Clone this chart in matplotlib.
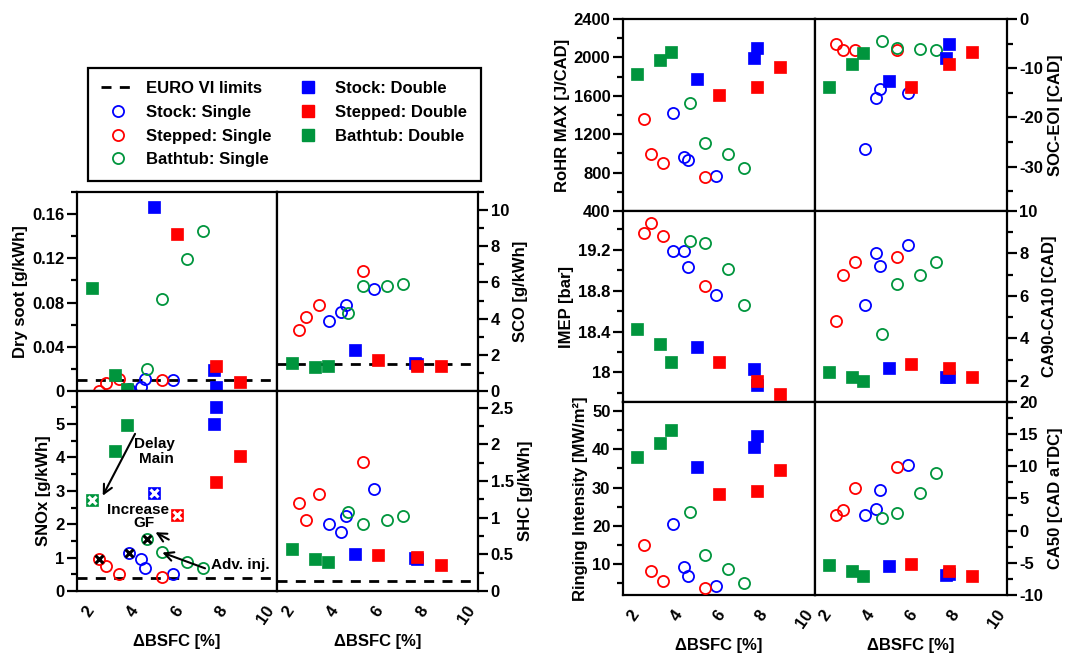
import matplotlib.pyplot as plt
from matplotlib.lines import Line2D
from matplotlib.ticker import MultipleLocator, FuncFormatter

plt.rcParams['font.family'] = ['Liberation Sans', 'DejaVu Sans']
plt.rcParams['font.weight'] = 'bold'
plt.rcParams['axes.labelweight'] = 'bold'
plt.rcParams['font.size'] = 12

# delta BSFC [%] for every configuration
x_stock_single = [3.83, 4.37, 4.57, 5.84]
x_stepped_single = [2.48, 2.81, 3.37, 5.34]
x_bathtub_single = [4.66, 5.34, 6.43, 7.15]
x_stock_double = [4.98, 7.66, 7.77]
x_stepped_double = [6.02, 7.77, 8.85]
x_bathtub_double = [2.16, 3.22, 3.77]

# emissions
soot = dict(stock_single=[0.002, 0.004, 0.011, 0.010],
            stepped_single=[0.0, 0.007, 0.011, 0.010],
            bathtub_single=[0.020, 0.083, 0.119, 0.145],
            stock_double=[0.166, 0.019, 0.004],
            stepped_double=[0.142, 0.0226, 0.0084],
            bathtub_double=[0.0935, 0.0144, 0.002])
sco = dict(stock_single=[3.87, 4.38, 4.75, 5.62],
           stepped_single=[3.37, 4.10, 4.75, 6.65],
           bathtub_single=[4.29, 5.80, 5.80, 5.91],
           stock_double=[2.27, 1.57, 1.50],
           stepped_double=[1.71, 1.38, 1.38],
           bathtub_double=[1.53, 1.31, 1.38])
snox = dict(stock_single=[1.13, 0.95, 0.68, 0.50],
            stepped_single=[0.96, 0.75, 0.52, 0.43],
            bathtub_single=[1.56, 1.16, 0.88, 0.70],
            stock_double=[2.93, 5.0, 5.5],
            stepped_double=[2.28, 3.25, 4.05],
            bathtub_double=[2.73, 4.18, 4.98])
shc = dict(stock_single=[0.92, 0.81, 1.03, 1.39],
           stepped_single=[1.20, 0.97, 1.33, 1.76],
           bathtub_single=[1.08, 0.92, 0.97, 1.02],
           stock_double=[0.51, 0.45, 0.44],
           stepped_double=[0.49, 0.47, 0.36],
           bathtub_double=[0.57, 0.44, 0.40])

# combustion
rohr = dict(stock_single=[1424, 959, 931, 768],
            stepped_single=[1355, 990, 900, 758],
            bathtub_single=[1522, 1105, 994, 851],
            stock_double=[1775, 1990, 2101],
            stepped_double=[1608, 1695, 1897],
            bathtub_double=[1827, 1973, 2053])
soc_eoi = dict(stock_single=[-26.4, -16.1, -14.2, -15.1],
               stepped_single=[-5.0, -6.3, -6.3, -6.2],
               bathtub_single=[-4.5, -5.9, -6.1, -6.2],
               stock_double=[-12.5, -7.9, -5.1],
               stepped_double=[-13.9, -9.2, -6.7],
               bathtub_double=[-13.9, -9.2, -6.9])
imep = dict(stock_single=[19.19, 19.19, 19.03, 18.76],
            stepped_single=[19.36, 19.46, 19.34, 18.85],
            bathtub_single=[19.29, 19.27, 19.01, 18.66],
            stock_double=[18.25, 18.03, 17.88],
            stepped_double=[18.10, 17.92, 17.79],
            bathtub_double=[18.42, 18.28, 18.10])
ca90_ca10 = dict(stock_single=[5.59, 8.02, 7.39, 8.41],
                 stepped_single=[4.80, 6.98, 7.61, 7.81],
                 bathtub_single=[4.20, 6.58, 7.00, 7.61],
                 stock_double=[2.61, 2.19, 2.20],
                 stepped_double=[2.81, 2.61, 2.19],
                 bathtub_double=[2.42, 2.19, 2.00])
ringing = dict(stock_single=[20.4, 9.2, 7.0, 4.4],
               stepped_single=[15.1, 8.3, 5.7, 3.9],
               bathtub_single=[23.7, 12.3, 8.8, 5.1],
               stock_double=[35.4, 40.5, 43.5],
               stepped_double=[28.3, 29.2, 34.6],
               bathtub_double=[37.9, 41.5, 45.1])
ca50 = dict(stock_single=[2.37, 3.31, 6.28, 10.19],
            stepped_single=[2.42, 3.15, 6.59, 9.93],
            bathtub_single=[1.90, 2.68, 5.92, 9.04],
            stock_double=[-5.46, -6.87, -6.70],
            stepped_double=[-5.20, -6.24, -6.97],
            bathtub_double=[-5.30, -6.34, -6.97])

# EURO VI limits [g/kWh]
euro6_soot = 0.01
euro6_co = 1.5
euro6_nox = 0.4
euro6_hc = 0.13

# points changed by the strategies marked in the SNOx plot (index in each series)
snox_marked = 0

BLUE, RED, GREEN = '#0000ff', '#ff0000', '#00953d'
series = [  # key, label, x, marker, colour
    ('stock_single', 'Stock: Single', x_stock_single, 'o', BLUE),
    ('stepped_single', 'Stepped: Single', x_stepped_single, 'o', RED),
    ('bathtub_single', 'Bathtub: Single', x_bathtub_single, 'o', GREEN),
    ('stock_double', 'Stock: Double', x_stock_double, 's', BLUE),
    ('stepped_double', 'Stepped: Double', x_stepped_double, 's', RED),
    ('bathtub_double', 'Bathtub: Double', x_bathtub_double, 's', GREEN),
]

W, H = 1073, 654
fig = plt.figure(figsize=(W / 100, H / 100), dpi=100)


def box(x0, y0, x1, y1):
    return [x0 / W, 1 - y1 / H, (x1 - x0) / W, (y1 - y0) / H]


def scatter_panel(ax, data):
    for key, label, xs, mk, col in series:
        if mk == 'o':
            ax.plot(xs, data[key], mk, ms=8, mfc='none', mec=col, mew=1.3, zorder=3)
        else:
            ax.plot(xs, data[key], mk, ms=9, mfc=col, mec=col, mew=0.5, zorder=3)


def style(ax, ylim, major, minor, ylabel, side, bottom):
    ax.set_xlim(1.5, 10.5)
    ax.set_ylim(*ylim)
    ax.yaxis.set_major_locator(MultipleLocator(major))
    ax.yaxis.set_minor_locator(MultipleLocator(minor))
    ax.yaxis.set_major_formatter(FuncFormatter(lambda v, p: '%g' % round(v, 6)))
    ax.set_xticks([2, 4, 6, 8, 10])
    for s in ax.spines.values():
        s.set_linewidth(1.6)
    ax.tick_params(axis='y', which='major', direction='out', length=7, width=1.6, labelsize=12, pad=2)
    ax.tick_params(axis='y', which='minor', direction='out', length=4, width=1.6)
    ax.tick_params(axis='x', length=0, labelsize=12, pad=9)
    if side == 'right':
        ax.yaxis.tick_right()
        ax.yaxis.set_label_position('right')
        ax.tick_params(axis='y', which='both', left=False, right=True)
    else:
        ax.tick_params(axis='y', which='both', left=True, right=False)
    ax.set_ylabel(ylabel, fontsize=12, labelpad=3)
    if bottom:
        for t in ax.get_xticklabels():
            t.set_rotation(55)
            t.set_ha('center')
            t.set_va('top')
        ax.set_xlabel('ΔBSFC [%]', fontsize=12, labelpad=5)
    else:
        ax.tick_params(axis='x', labelbottom=False)


def limit_line(ax, value):
    ax.axhline(value, color='black', lw=2, dashes=(3.6, 3), zorder=2)


# --- emissions block ---
ax = fig.add_axes(box(77, 192, 277, 391))
scatter_panel(ax, soot)
limit_line(ax, euro6_soot)
style(ax, (0, 0.18), 0.04, 0.02, 'Dry soot [g/kWh]', 'left', False)

ax = fig.add_axes(box(277, 192, 478, 391))
scatter_panel(ax, sco)
limit_line(ax, euro6_co)
style(ax, (0, 11), 2, 1, 'SCO [g/kWh]', 'right', False)

ax = fig.add_axes(box(77, 391, 277, 591))
scatter_panel(ax, snox)
limit_line(ax, euro6_nox)
style(ax, (0, 5.99), 1, 0.5, 'SNOx [g/kWh]', 'left', True)
for key, label, xs, mk, col in series:
    xcol = 'white' if mk == 's' else 'black'
    ax.plot(xs[snox_marked], snox[key][snox_marked], 'x', ms=6, mec=xcol, mew=2.2, zorder=4)
arrow = dict(arrowstyle='->', lw=1.5, color='black', mutation_scale=16)
ax.annotate('', xy=(2.60, 2.78), xytext=(4.17, 4.78), arrowprops=arrow)
ax.annotate('', xy=(4.92, 1.80), xytext=(5.74, 1.50), arrowprops=arrow)
ax.annotate('', xy=(5.22, 1.18), xytext=(7.38, 0.65), arrowprops=arrow)
ax.text(4.99, 4.40, 'Delay', ha='center', va='center', fontsize=11)
ax.text(5.09, 3.96, 'Main', ha='center', va='center', fontsize=11)
ax.text(4.24, 2.43, 'Increase', ha='center', va='center', fontsize=11)
ax.text(4.51, 2.03, 'GF', ha='center', va='center', fontsize=11)
ax.text(7.55, 0.78, 'Adv. inj.', ha='left', va='center', fontsize=11)

ax = fig.add_axes(box(277, 391, 478, 591))
scatter_panel(ax, shc)
limit_line(ax, euro6_hc)
style(ax, (0, 2.73), 0.5, 0.25, 'SHC [g/kWh]', 'right', True)

# --- combustion block ---
ax = fig.add_axes(box(623, 19, 815, 211))
scatter_panel(ax, rohr)
style(ax, (400, 2400), 400, 200, 'RoHR MAX [J/CAD]', 'left', False)

ax = fig.add_axes(box(815, 19, 1007, 211))
scatter_panel(ax, soc_eoi)
style(ax, (-39, 0), 10, 5, 'SOC-EOI [CAD]', 'right', False)

ax = fig.add_axes(box(623, 211, 815, 402))
scatter_panel(ax, imep)
style(ax, (17.71, 19.58), 0.4, 0.2, 'IMEP [bar]', 'left', False)

ax = fig.add_axes(box(815, 211, 1007, 402))
scatter_panel(ax, ca90_ca10)
style(ax, (1, 10), 2, 1, 'CA90-CA10 [CAD]', 'right', False)

ax = fig.add_axes(box(623, 402, 815, 595))
scatter_panel(ax, ringing)
style(ax, (2, 52.3), 10, 5, 'Ringing Intensity [MW/m²]', 'left', True)

ax = fig.add_axes(box(815, 402, 1007, 595))
scatter_panel(ax, ca50)
style(ax, (-10, 20), 5, 2.5, 'CA50 [CAD aTDC]', 'right', True)

# shared legend
handles = [Line2D([], [], color='black', lw=2, dashes=(3.6, 3))]
labels = ['EURO VI limits']
for key, label, xs, mk, col in series:
    if mk == 'o':
        h = Line2D([], [], ls='none', marker='o', ms=8, mfc='none', mec=col, mew=1.3)
    else:
        h = Line2D([], [], ls='none', marker='s', ms=9, mfc=col, mec=col)
    handles.append(h)
    labels.append(label)
leg = fig.legend(handles, labels, loc='upper left', bbox_to_anchor=(88 / W, 1 - 68 / H),
                 borderaxespad=0, ncol=2, frameon=True, fancybox=False, edgecolor='black',
                 framealpha=1, fontsize=12, handlelength=2.0, handletextpad=0.65,
                 columnspacing=1.2, labelspacing=0.52, borderpad=0.8)
leg.get_frame().set_linewidth(1.6)

fig.savefig('out.png', dpi=100)
